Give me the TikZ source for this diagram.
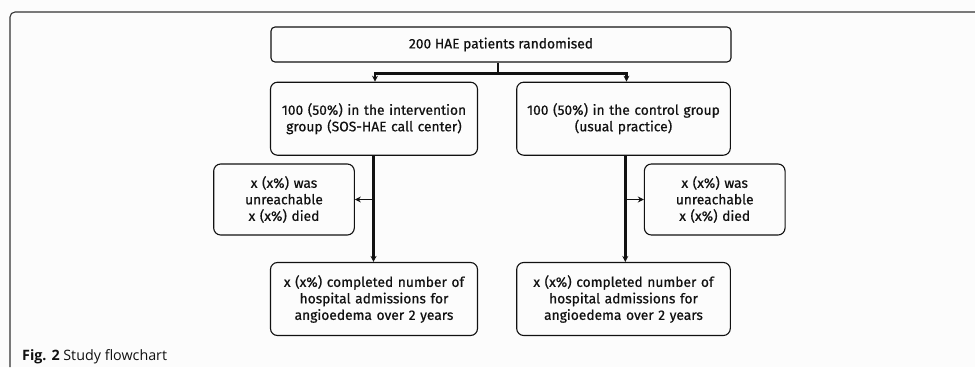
\documentclass[tikz,border=0pt]{standalone}
\usepackage{fontspec}
\setmainfont{Fira Sans}
\newfontfamily\boxfont{Fira Sans}[FakeBold=0.6]
\newfontfamily\capfont{Open Sans}
\usetikzlibrary{arrows.meta,positioning}
\definecolor{ink}{HTML}{111111}
\definecolor{framec}{HTML}{333333}
\definecolor{bgc}{HTML}{FCFCFC}
\begin{document}
\begin{tikzpicture}[x=1pt,y=1pt,
  box/.style={draw=ink,line width=1.1pt,rounded corners=7pt,align=center,
    inner sep=0pt,font=\boxfont\fontsize{13.8}{16.5}\selectfont,text=ink},
  conn/.style={draw=ink,line width=2.8pt},
  arr/.style={conn,-{Stealth[length=6pt,width=6pt]}},
  sidearr/.style={draw=ink,line width=1.6pt,-{Stealth[length=6pt,width=6pt]}}]
\fill[bgc] (0,0) rectangle (975,-367);
\useasboundingbox (0,0) rectangle (975,-367);
% frame
\draw[framec,line width=1.1pt,rounded corners=5pt] (10,-367) -- (10,-12) -- (975,-12);
% nodes
\node[box,rounded corners=4pt,minimum width=460pt,minimum height=35pt] (top) at (501,-44.5) {200 HAE patients randomised};
\node[box,minimum width=207pt,minimum height=73pt,text width=200pt] (lg) at (374,-118.7) {100 (50\%) in the intervention\\group (SOS-HAE call center)};
\node[box,minimum width=213.6pt,minimum height=73pt,text width=205pt] (rg) at (623.5,-118.7) {100 (50\%) in the control group\\(usual practice)};
\node[box,minimum width=140.6pt,minimum height=71pt,text width=135pt] (ls) at (284,-199.5) {x (x\%) was\\unreachable\\x (x\%) died};
\node[box,minimum width=140.7pt,minimum height=71pt,text width=135pt] (rs) at (714.7,-199.5) {x (x\%) was\\unreachable\\x (x\%) died};
\node[box,minimum width=207pt,minimum height=73pt,text width=200pt] (lb) at (374,-299) {x (x\%) completed number of\\hospital admissions for\\angioedema over 2 years};
\node[box,minimum width=213.6pt,minimum height=73pt,text width=205pt] (rb) at (623.5,-299) {x (x\%) completed number of\\hospital admissions for\\angioedema over 2 years};
% caption
\node[anchor=base west,inner sep=0pt,font=\capfont\fontsize{14.3}{16}\selectfont,text=ink] (cap) at (22,-360) {\textbf{Fig. 2} Study flowchart};
% connectors
\draw[conn] ([xshift=-3pt]top.south) -- ++(0,-11) coordinate (j);
\draw[arr] (j) -| ([xshift=1pt]lg.north);
\draw[arr] (j) -| ([xshift=3pt]rg.north);
\draw[arr] ([xshift=-0.5pt]lg.south) -- ([xshift=-0.5pt]lb.north);
\draw[arr] ([xshift=1.8pt]rg.south) -- ([xshift=1.8pt]rb.north);
\draw[sidearr] ([xshift=-0.5pt]lg.south |- ls.east) -- (ls.east);
\draw[sidearr] ([xshift=1.8pt]rg.south |- rs.west) -- (rs.west);
\end{tikzpicture}
\end{document}
